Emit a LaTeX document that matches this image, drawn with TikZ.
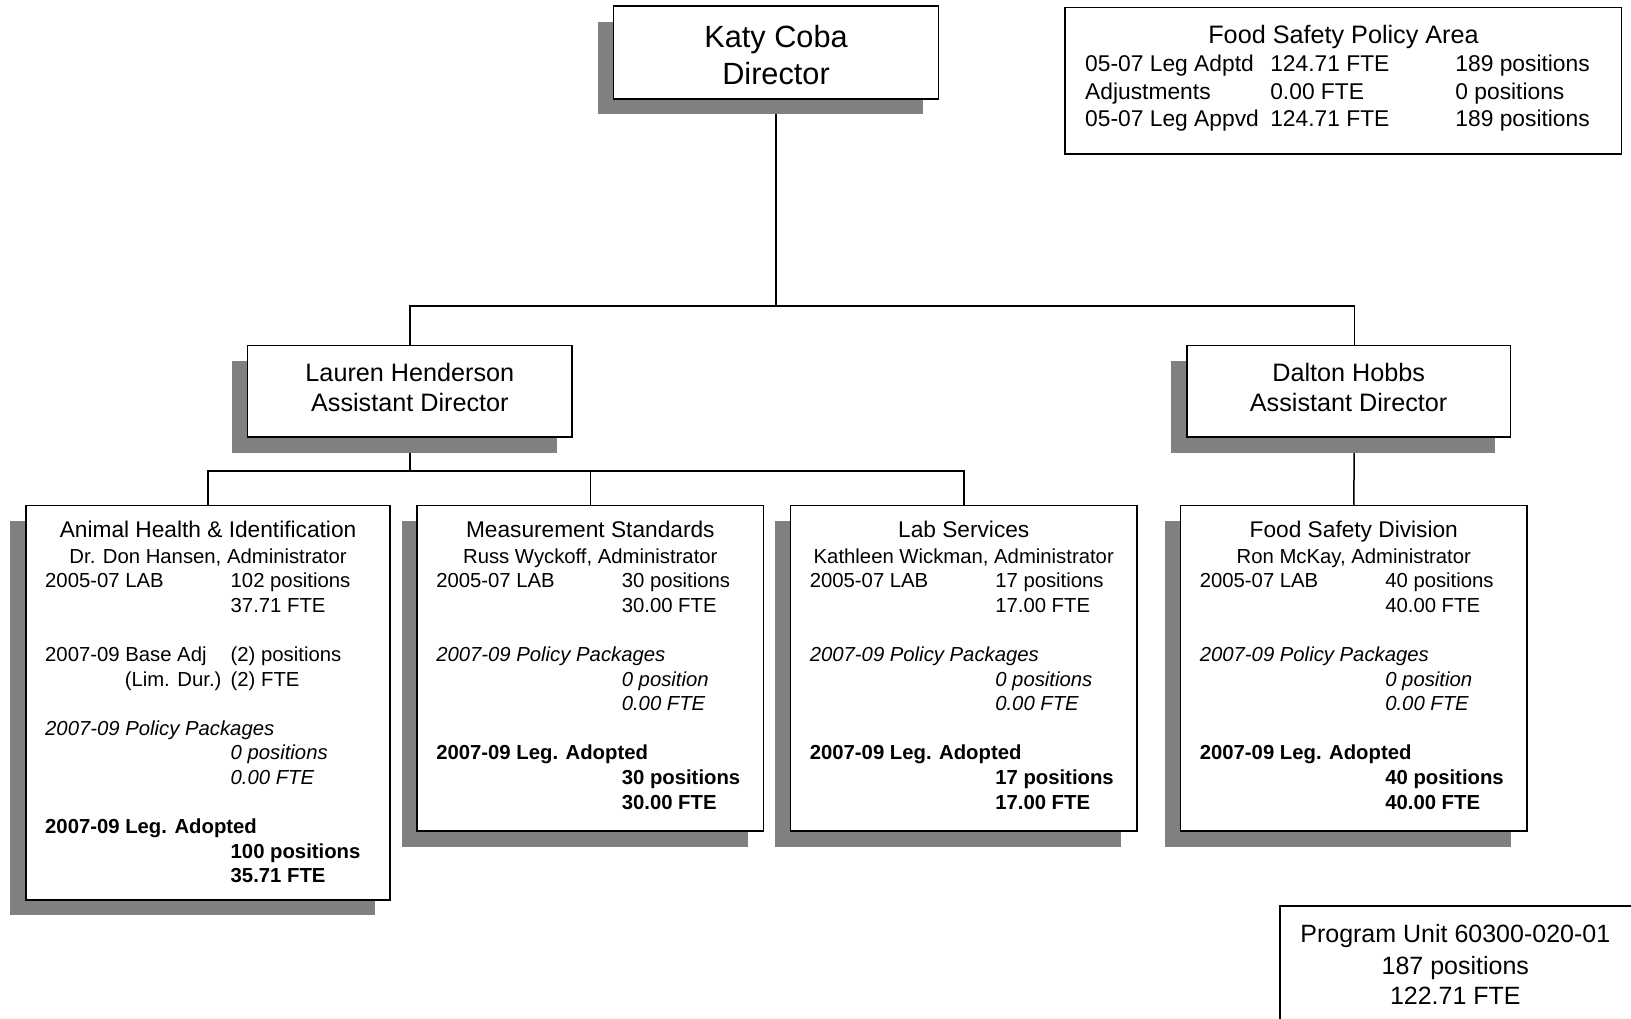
\documentclass[tikz,border=0pt]{standalone}
\usepackage{fontspec}
\setmainfont{Liberation Sans}
\usetikzlibrary{shadows,backgrounds}
\definecolor{shgray}{RGB}{128,128,128}
\begin{document}
\begin{tikzpicture}[x=1pt,y=-1pt,
  boxst/.style={draw=black,line width=1.5pt,fill=white,inner sep=0pt,rectangle},
  shbox/.style={boxst,drop shadow={shadow xshift=-15.6pt,shadow yshift=-15.6pt,fill=shgray,opacity=1}},
  conn/.style={line width=1.5pt,draw=black},
  tb/.style={inner sep=0pt,font=\fontsize{20.3}{24}\selectfont},
  tc/.style={tb,anchor=base},
  tw/.style={tb,anchor=base west},
  te/.style={tb,anchor=base east},
  ttl/.style={inner sep=0pt,anchor=base,font=\fontsize{22.7}{27}\selectfont},
  tbig/.style={inner sep=0pt,anchor=base,font=\fontsize{30.7}{37}\selectfont},
  tmid/.style={inner sep=0pt,anchor=base,font=\fontsize{25.2}{30}\selectfont},
  tfs/.style={inner sep=0pt,anchor=base west,font=\fontsize{22.8}{27}\selectfont},
]
\useasboundingbox (0,0) rectangle (1631,1019);

% ---------- boxes ----------
\node[shbox,minimum width=324.6pt,minimum height=92.6pt] (dir) at (776,52.5) {};
\node[boxst,minimum width=556.5pt,minimum height=146.6pt] (fspa) at (1343.45,80.6) {};
\node[shbox,minimum width=324.5pt,minimum height=91.6pt] (lau) at (409.85,391.1) {};
\node[shbox,minimum width=323.5pt,minimum height=91.6pt] (dal) at (1348.65,391.1) {};
\node[shbox,minimum width=364.1pt,minimum height=394.3pt] (ani) at (208.05,702.65) {};
\node[shbox,minimum width=346.4pt,minimum height=325.6pt] (mea) at (590.3,668.3) {};
\node[shbox,minimum width=346.3pt,minimum height=325.6pt] (lab) at (963.75,668.3) {};
\node[shbox,minimum width=346.4pt,minimum height=325.6pt] (fsd) at (1353.8,668.3) {};
\node[boxst,minimum width=365pt,minimum height=134pt] (pu) at (1462.5,973) {};

% ---------- connectors ----------
\coordinate (j1) at (776,305.8);
\coordinate (dalin) at (1354.3,345.3);
\coordinate (dalout) at (1354.3,436.9);
\coordinate (j2) at (409.85,471.2);
\begin{pgfonlayer}{background}
\draw[conn] (dir.south) -- (j1);
\draw[conn] (lau.north) |- (j1) -| (dalin);
\draw[conn] (lau.south) -- (j2);
\draw[conn] (ani.north) |- (lab.north |- j2) -- (lab.north);
\draw[conn] (mea.north) -- (mea.north |- j2);
\draw[conn] (dalout) -- (fsd.north);
\end{pgfonlayer}

% ---------- top texts ----------
\node[tbig] (dirt1) at (776,47.4) {Katy Coba};
\node[tbig] (dirt2) at (776,84.9) {Director};

\node[tmid] (fspat) at (1343.5,43.3) {Food Safety Policy Area};
\node[tfs] (fs11) at (1085,71.7) {05-07 Leg Adptd};
\node[tfs] (fs12) at (1270.1,71.7) {124.71 FTE};
\node[tfs] (fs13) at (1455.2,71.7) {189 positions};
\node[tfs] (fs21) at (1085,99.7) {Adjustments};
\node[tfs] (fs22) at (1270.1,99.7) {0.00 FTE};
\node[tfs] (fs23) at (1455.2,99.7) {0 positions};
\node[tfs] (fs31) at (1085,126.8) {05-07 Leg Appvd};
\node[tfs] (fs32) at (1270.1,126.8) {124.71 FTE};
\node[tfs] (fs33) at (1455.2,126.8) {189 positions};

\node[tmid] (laut1) at (409.85,381.4) {Lauren Henderson};
\node[tmid] (laut2) at (409.85,411.6) {Assistant Director};
\node[tmid] (dalt1) at (1348.65,381.4) {Dalton Hobbs};
\node[tmid] (dalt2) at (1348.65,411.6) {Assistant Director};

% ---------- Animal Health ----------
\node[ttl] (a0) at (208.05,537.5) {Animal Health \& Identification};
\node[tc] (a1) at (208.05,563.8) {Dr. Don Hansen, Administrator};
\node[tw] (a2) at (45,587.7) {2005-07 LAB};
\node[tw] (a3) at (230.5,587.7) {102 positions};
\node[tw] (a4) at (230.5,612.3) {37.71 FTE};
\node[tw] (a5) at (45,661.5) {2007-09 Base Adj};
\node[tw] (a6) at (230.5,661.5) {(2) positions};
\node[te] (a7) at (221.6,686.1) {(Lim. Dur.)};
\node[tw] (a8) at (230.5,686.1) {(2) FTE};
\node[tw,font=\fontsize{20.3}{24}\selectfont\itshape] (a9) at (45,735.3) {2007-09 Policy Packages};
\node[tw,font=\fontsize{20.3}{24}\selectfont\itshape] (a10) at (230.5,759.9) {0 positions};
\node[tw,font=\fontsize{20.3}{24}\selectfont\itshape] (a11) at (230.5,784.5) {0.00 FTE};
\node[tw,font=\fontsize{20.3}{24}\selectfont\bfseries] (a12) at (45,833.7) {2007-09 Leg. Adopted};
\node[tw,font=\fontsize{20.3}{24}\selectfont\bfseries] (a13) at (230.5,858.3) {100 positions};
\node[tw,font=\fontsize{20.3}{24}\selectfont\bfseries] (a14) at (230.5,882.9) {35.71 FTE};

% ---------- Measurement Standards ----------
\node[ttl] (m0) at (590.3,537.5) {Measurement Standards};
\node[tc] (m1) at (590.3,563.8) {Russ Wyckoff, Administrator};
\node[tw] (m2) at (436.1,587.7) {2005-07 LAB};
\node[tw] (m3) at (621.6,587.7) {30 positions};
\node[tw] (m4) at (621.6,612.3) {30.00 FTE};
\node[tw,font=\fontsize{20.3}{24}\selectfont\itshape] (m5) at (436.1,661.5) {2007-09 Policy Packages};
\node[tw,font=\fontsize{20.3}{24}\selectfont\itshape] (m6) at (621.6,686.1) {0 position};
\node[tw,font=\fontsize{20.3}{24}\selectfont\itshape] (m7) at (621.6,710.7) {0.00 FTE};
\node[tw,font=\fontsize{20.3}{24}\selectfont\bfseries] (m8) at (436.1,759.9) {2007-09 Leg. Adopted};
\node[tw,font=\fontsize{20.3}{24}\selectfont\bfseries] (m9) at (621.6,784.5) {30 positions};
\node[tw,font=\fontsize{20.3}{24}\selectfont\bfseries] (m10) at (621.6,809.1) {30.00 FTE};

% ---------- Lab Services ----------
\node[ttl] (l0) at (963.75,537.5) {Lab Services};
\node[tc] (l1) at (963.75,563.8) {Kathleen Wickman, Administrator};
\node[tw] (l2) at (809.6,587.7) {2005-07 LAB};
\node[tw] (l3) at (995.1,587.7) {17 positions};
\node[tw] (l4) at (995.1,612.3) {17.00 FTE};
\node[tw,font=\fontsize{20.3}{24}\selectfont\itshape] (l5) at (809.6,661.5) {2007-09 Policy Packages};
\node[tw,font=\fontsize{20.3}{24}\selectfont\itshape] (l6) at (995.1,686.1) {0 positions};
\node[tw,font=\fontsize{20.3}{24}\selectfont\itshape] (l7) at (995.1,710.7) {0.00 FTE};
\node[tw,font=\fontsize{20.3}{24}\selectfont\bfseries] (l8) at (809.6,759.9) {2007-09 Leg. Adopted};
\node[tw,font=\fontsize{20.3}{24}\selectfont\bfseries] (l9) at (995.1,784.5) {17 positions};
\node[tw,font=\fontsize{20.3}{24}\selectfont\bfseries] (l10) at (995.1,809.1) {17.00 FTE};

% ---------- Food Safety Division ----------
\node[ttl] (f0) at (1353.8,537.5) {Food Safety Division};
\node[tc] (f1) at (1353.8,563.8) {Ron McKay, Administrator};
\node[tw] (f2) at (1199.6,587.7) {2005-07 LAB};
\node[tw] (f3) at (1385.1,587.7) {40 positions};
\node[tw] (f4) at (1385.1,612.3) {40.00 FTE};
\node[tw,font=\fontsize{20.3}{24}\selectfont\itshape] (f5) at (1199.6,661.5) {2007-09 Policy Packages};
\node[tw,font=\fontsize{20.3}{24}\selectfont\itshape] (f6) at (1385.1,686.1) {0 position};
\node[tw,font=\fontsize{20.3}{24}\selectfont\itshape] (f7) at (1385.1,710.7) {0.00 FTE};
\node[tw,font=\fontsize{20.3}{24}\selectfont\bfseries] (f8) at (1199.6,759.9) {2007-09 Leg. Adopted};
\node[tw,font=\fontsize{20.3}{24}\selectfont\bfseries] (f9) at (1385.1,784.5) {40 positions};
\node[tw,font=\fontsize{20.3}{24}\selectfont\bfseries] (f10) at (1385.1,809.1) {40.00 FTE};

% ---------- Program Unit ----------
\node[tmid,font=\fontsize{25}{30}\selectfont] (pu1) at (1455.3,942.1) {Program Unit 60300-020-01};
\node[tmid,font=\fontsize{25}{30}\selectfont] (pu2) at (1455.3,974.3) {187 positions};
\node[tmid,font=\fontsize{25}{30}\selectfont] (pu3) at (1455.3,1004.5) {122.71 FTE};
\end{tikzpicture}
\end{document}
